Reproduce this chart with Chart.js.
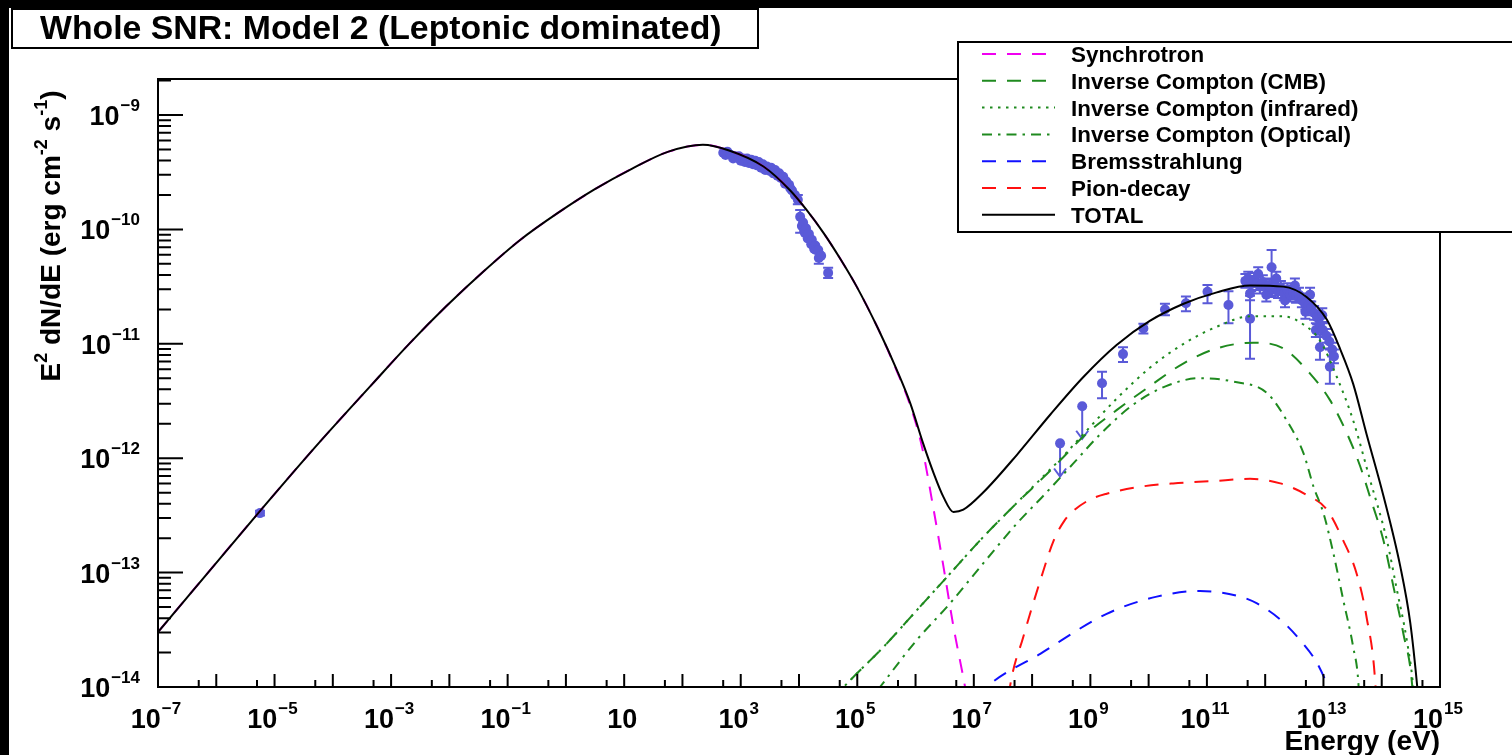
<!DOCTYPE html>
<html>
<head>
<meta charset="utf-8">
<script src="https://cdn.jsdelivr.net/npm/chart.js@4.4.1/dist/chart.umd.min.js"></script>
<style>
  html, body { margin: 0; padding: 0; background: #fff; }
  #wrap { width: 1512px; height: 755px; }
</style>
</head>
<body>
<div id="wrap"><canvas id="sed" width="1512" height="755"></canvas></div>
<script>
// All values are log10(E / eV) and log10(E^2 dN/dE / erg cm^-2 s^-1).

// --- model curves ---
const totalLogE = [-7, -5.28, -4.28, -3.32, -2.69, -2.05, -1.42, -0.78, -0.15, 0.49, 1.13, 1.76, 2.35, 2.80, 3.39, 3.85, 4.13, 4.42, 4.70, 4.99, 5.35, 5.68, 5.91, 6.13, 6.31, 6.48, 6.65, 6.82, 7.16, 7.74, 8.31, 8.88, 9.45, 10.02, 10.60, 11.17, 11.74, 12.31, 12.71, 13.06, 13.29, 13.51, 13.74, 14.03, 14.32, 14.49, 14.61, 14.66];
const totalLogF = [-13.52, -12.48, -11.89, -11.35, -11.00, -10.67, -10.37, -10.09, -9.86, -9.65, -9.47, -9.32, -9.26, -9.31, -9.45, -9.66, -9.83, -10.03, -10.25, -10.50, -10.86, -11.23, -11.52, -11.87, -12.13, -12.34, -12.47, -12.45, -12.30, -11.97, -11.62, -11.29, -11.01, -10.80, -10.65, -10.55, -10.49, -10.50, -10.59, -10.79, -11.05, -11.35, -11.79, -12.33, -12.95, -13.44, -14.0, -14.3];

const synchLogE = [-7, -5.28, -4.28, -3.32, -2.69, -2.05, -1.42, -0.78, -0.15, 0.49, 1.13, 1.76, 2.35, 2.80, 3.39, 3.85, 4.13, 4.42, 4.70, 4.99, 5.35, 5.68, 5.91, 6.11, 6.30, 6.48, 6.65, 6.85, 6.95];
const synchLogF = [-13.52, -12.48, -11.89, -11.35, -11.00, -10.67, -10.37, -10.09, -9.86, -9.65, -9.47, -9.32, -9.26, -9.31, -9.45, -9.66, -9.83, -10.03, -10.25, -10.50, -10.86, -11.24, -11.54, -11.90, -12.42, -12.95, -13.47, -14.0, -14.3];

const icCmbLogE = [4.60, 4.88, 5.45, 6.02, 6.59, 7.16, 7.74, 8.19, 8.50, 8.88, 9.45, 10.02, 10.60, 11.17, 11.80, 12.31, 12.77, 13.11, 13.40, 13.63, 13.80, 14.03, 14.20, 14.37, 14.52, 14.56];
const icCmbLogF = [-14.09, -13.94, -13.65, -13.33, -13.01, -12.69, -12.39, -12.17, -12.01, -11.81, -11.58, -11.37, -11.17, -11.04, -10.99, -11.04, -11.26, -11.49, -11.78, -12.07, -12.34, -12.72, -13.12, -13.53, -13.97, -14.3];

const icIrLogE = [4.60, 4.88, 5.45, 6.02, 6.59, 7.16, 7.74, 8.19, 8.50, 8.88, 9.45, 10.02, 10.60, 11.17, 11.74, 12.31, 12.71, 12.94, 13.23, 13.51, 13.80, 14.09, 14.26, 14.43, 14.54, 14.58];
const icIrLogF = [-14.09, -13.94, -13.65, -13.33, -13.01, -12.69, -12.39, -12.16, -12.00, -11.79, -11.48, -11.21, -11.00, -10.85, -10.76, -10.76, -10.85, -10.97, -11.29, -11.67, -12.19, -12.72, -13.15, -13.59, -14.0, -14.3];

const icOptLogE = [5.10, 5.39, 6.02, 6.59, 7.16, 7.74, 8.19, 8.70, 9.17, 9.74, 10.30, 10.88, 11.45, 12.03, 12.37, 12.66, 12.83, 13.00, 13.17, 13.34, 13.51, 13.60, 13.63];
const icOptLogF = [-14.19, -14.0, -13.59, -13.27, -12.92, -12.57, -12.33, -12.05, -11.79, -11.53, -11.37, -11.30, -11.33, -11.43, -11.67, -11.96, -12.25, -12.48, -12.83, -13.24, -13.65, -13.97, -14.3];

const bremsLogE = [7.05, 7.22, 8.14, 9.28, 10.14, 10.88, 11.57, 11.86, 12.26, 12.60, 12.89, 13.08, 13.15];
const bremsLogF = [-14.1, -14.0, -13.71, -13.36, -13.21, -13.16, -13.21, -13.27, -13.41, -13.59, -13.79, -14.0, -14.1];

const pionLogE = [7.55, 7.62, 7.85, 8.14, 8.37, 8.55, 8.71, 9.00, 9.28, 9.85, 10.42, 11.10, 11.74, 12.26, 12.71, 13.06, 13.34, 13.57, 13.74, 13.89, 13.92];
const pionLogF = [-14.3, -14.0, -13.56, -13.07, -12.72, -12.55, -12.46, -12.36, -12.31, -12.25, -12.22, -12.20, -12.18, -12.22, -12.32, -12.45, -12.72, -13.01, -13.39, -13.97, -14.3];

// --- measurements: [logE, logF, errDown, errUp] (errors in dex, 0 = none) ---
const radioPts = [[-5.25, -12.48, 0.02, 0.02]];
const xrayPts = [
  [2.70, -9.33, 0, 0], [2.74, -9.35, 0, 0], [2.77, -9.32, 0, 0], [2.83, -9.35, 0, 0], [2.87, -9.38, 0, 0],
  [2.90, -9.36, 0, 0], [2.97, -9.36, 0, 0], [3.00, -9.40, 0, 0], [3.04, -9.38, 0, 0], [3.07, -9.41, 0, 0],
  [3.11, -9.38, 0, 0], [3.14, -9.42, 0, 0], [3.18, -9.39, 0, 0], [3.21, -9.43, 0, 0], [3.25, -9.40, 0, 0],
  [3.28, -9.44, 0, 0], [3.31, -9.41, 0, 0], [3.35, -9.46, 0, 0], [3.38, -9.43, 0, 0], [3.42, -9.48, 0, 0],
  [3.45, -9.45, 0, 0], [3.50, -9.49, 0, 0], [3.52, -9.46, 0, 0], [3.56, -9.51, 0, 0], [3.59, -9.48, 0, 0],
  [3.63, -9.53, 0, 0], [3.66, -9.51, 0, 0], [3.69, -9.55, 0, 0], [3.73, -9.54, 0, 0], [3.76, -9.60, 0, 0],
  [3.78, -9.58, 0, 0], [3.83, -9.61, 0, 0], [3.85, -9.64, 0, 0], [3.88, -9.66, 0, 0], [3.93, -9.70, 0, 0],
  [3.98, -9.74, 0.04, 0.04], [4.02, -9.89, 0.14, 0.06], [4.05, -9.97, 0, 0], [4.07, -9.94, 0, 0], [4.10, -10.03, 0, 0],
  [4.12, -9.99, 0, 0], [4.15, -10.08, 0, 0], [4.17, -10.04, 0, 0], [4.21, -10.13, 0, 0], [4.22, -10.09, 0, 0],
  [4.26, -10.17, 0, 0], [4.28, -10.14, 0, 0], [4.29, -10.18, 0, 0], [4.33, -10.18, 0, 0], [4.34, -10.25, 0.05, 0.05],
  [4.38, -10.23, 0, 0], [4.50, -10.38, 0.045, 0.045]
];
const fermiPts = [
  [9.20, -11.345, 0.13, 0.10], [9.56, -11.09, 0.07, 0.06], [9.91, -10.865, 0.045, 0.04],
  [10.28, -10.70, 0.05, 0.05], [10.64, -10.646, 0.07, 0.06], [11.01, -10.545, 0.10, 0.06],
  [11.37, -10.66, 0.16, 0.12], [11.74, -10.78, 0.35, 0.20], [12.11, -10.33, 0.26, 0.15]
];
const hessPts = [
  [11.66, -10.45, 0.06, 0.06], [11.71, -10.43, 0.06, 0.06], [11.74, -10.56, 0.06, 0.06], [11.76, -10.48, 0.06, 0.06],
  [11.81, -10.44, 0.06, 0.06], [11.86, -10.47, 0.06, 0.06], [11.88, -10.39, 0.06, 0.06], [11.91, -10.50, 0.06, 0.06],
  [11.96, -10.46, 0.06, 0.06], [12.02, -10.50, 0.06, 0.06], [12.02, -10.57, 0.06, 0.06], [12.07, -10.49, 0.06, 0.06],
  [12.12, -10.52, 0.06, 0.06], [12.17, -10.50, 0.06, 0.06], [12.19, -10.43, 0.06, 0.06], [12.22, -10.54, 0.06, 0.06],
  [12.27, -10.51, 0.06, 0.06], [12.32, -10.56, 0.06, 0.06], [12.34, -10.62, 0.06, 0.06], [12.38, -10.53, 0.06, 0.06],
  [12.43, -10.57, 0.06, 0.06], [12.48, -10.55, 0.06, 0.06], [12.51, -10.49, 0.06, 0.06], [12.53, -10.58, 0.06, 0.06],
  [12.58, -10.57, 0.06, 0.06], [12.63, -10.62, 0.06, 0.06], [12.69, -10.64, 0.06, 0.06], [12.69, -10.72, 0.06, 0.06],
  [12.74, -10.66, 0.06, 0.06], [12.77, -10.57, 0.06, 0.06], [12.79, -10.69, 0.06, 0.06], [12.84, -10.73, 0.06, 0.06],
  [12.87, -10.88, 0.06, 0.06], [12.89, -10.77, 0.06, 0.06], [12.94, -10.83, 0.06, 0.06], [12.94, -11.03, 0.11, 0.11],
  [12.98, -10.75, 0.06, 0.06], [12.99, -10.88, 0.06, 0.06], [13.05, -10.93, 0.06, 0.06], [13.10, -10.98, 0.06, 0.06],
  [13.11, -11.20, 0.15, 0.15], [13.15, -11.05, 0.06, 0.06], [13.18, -11.11, 0.06, 0.06]
];
// upper limits: [logE, logF, arrow tip logF]
const upperLimits = [[8.48, -11.87, -12.16], [8.86, -11.545, -11.83]];

// --- axes ---
const xMinExp = -7, xMaxExp = 15;
const yMinExp = -14, yMaxLog = -8.685;
const xLabelExps = [-7, -5, -3, -1, 1, 3, 5, 7, 9, 11, 13, 15];
const yLabelExps = [-14, -13, -12, -11, -10, -9];

const titleText = "Whole SNR: Model 2 (Leptonic dominated)";
const xTitle = "Energy (eV)";
const seriesNames = ["Synchrotron", "Inverse Compton (CMB)", "Inverse Compton (infrared)", "Inverse Compton (Optical)", "Bremsstrahlung", "Pion-decay", "TOTAL"];

const FONT = '"Liberation Sans", Arial, Helvetica, sans-serif';
const GREEN = "#1f8a1f";
const DATA_BLUE = "#5a5ad8";
const DASH = [14, 11], DOT = [2.5, 5.5], DASHDOT = [10, 6, 2.5, 6];

const styles = [
  { color: "#f000f0", dash: DASH },
  { color: GREEN, dash: DASH },
  { color: GREEN, dash: DOT },
  { color: GREEN, dash: DASHDOT },
  { color: "#1010ff", dash: DASH },
  { color: "#ff1010", dash: DASH },
  { color: "#000000", dash: [] }
];

function pts(es, fs) {
  return es.map((e, i) => ({ x: Math.pow(10, e), y: Math.pow(10, fs[i]) }));
}

function curve(idx, es, fs, order) {
  return {
    label: seriesNames[idx],
    data: pts(es, fs),
    showLine: true,
    borderColor: styles[idx].color,
    borderDash: styles[idx].dash,
    borderWidth: 2,
    pointRadius: 0,
    fill: false,
    cubicInterpolationMode: "monotone",
    order
  };
}

const allPts = [...radioPts, ...xrayPts, ...fermiPts, ...hessPts, ...upperLimits.map((u) => [u[0], u[1], 0, 0])];

function drawPow(c, e, x, y, align) {
  const base = "bold 27px " + FONT, sup = "bold 17px " + FONT;
  c.font = base;
  const wb = c.measureText("10").width;
  let s = "", ws = 0;
  if (e !== 1) {
    s = (e < 0 ? "\u2212" : "") + Math.abs(e);
    c.font = sup;
    ws = c.measureText(s).width + 1;
  }
  const w = wb + ws;
  const x0 = align === "right" ? x - w : x - w / 2;
  c.textAlign = "left";
  c.textBaseline = "alphabetic";
  c.font = base;
  c.fillText("10", x0, y);
  if (s) {
    c.font = sup;
    c.fillText(s, x0 + wb + 1, y - 14);
  }
}

function drawRuns(c, runs, cx, y) {
  const big = "bold 28px " + FONT, small = "bold 18px " + FONT;
  let w = 0;
  runs.forEach((r) => { c.font = r.sup ? small : big; w += c.measureText(r.t).width; });
  let x = cx - w / 2;
  c.textAlign = "left";
  runs.forEach((r) => {
    c.font = r.sup ? small : big;
    c.fillText(r.t, x, r.sup ? y - 13 : y);
    x += c.measureText(r.t).width;
  });
}

const rootStyle = {
  id: "rootStyle",
  beforeDraw(chart) {
    const c = chart.ctx;
    c.save();
    c.fillStyle = "#fff";
    c.fillRect(0, 0, chart.width, chart.height);
    c.fillStyle = "#000";
    c.fillRect(0, 0, chart.width, 8);
    c.fillRect(0, 0, 9, chart.height);
    c.restore();
  },
  beforeDatasetsDraw(chart) {
    const c = chart.ctx, xs = chart.scales.x, ys = chart.scales.y, a = chart.chartArea;
    c.save();
    c.beginPath();
    c.rect(a.left, a.top, a.right - a.left, a.bottom - a.top);
    c.clip();
    c.strokeStyle = DATA_BLUE;
    c.lineWidth = 2;
    allPts.forEach((p) => {
      if (!p[2] && !p[3]) return;
      const px = xs.getPixelForValue(Math.pow(10, p[0]));
      const y1 = ys.getPixelForValue(Math.pow(10, p[1] - p[2]));
      const y2 = ys.getPixelForValue(Math.pow(10, p[1] + p[3]));
      c.beginPath();
      c.moveTo(px, y1); c.lineTo(px, y2);
      c.moveTo(px - 5, y1); c.lineTo(px + 5, y1);
      c.moveTo(px - 5, y2); c.lineTo(px + 5, y2);
      c.stroke();
    });
    upperLimits.forEach((u) => {
      const px = xs.getPixelForValue(Math.pow(10, u[0]));
      const y1 = ys.getPixelForValue(Math.pow(10, u[1]));
      const y2 = ys.getPixelForValue(Math.pow(10, u[2]));
      c.beginPath();
      c.moveTo(px, y1); c.lineTo(px, y2);
      c.moveTo(px - 6, y2 - 8); c.lineTo(px, y2); c.lineTo(px + 6, y2 - 8);
      c.stroke();
    });
    c.restore();
  },
  afterDraw(chart) {
    const c = chart.ctx, xs = chart.scales.x, ys = chart.scales.y, a = chart.chartArea;
    c.save();
    c.strokeStyle = "#000";
    c.fillStyle = "#000";
    c.lineWidth = 2;
    c.setLineDash([]);
    c.strokeRect(a.left, a.top, a.right - a.left, a.bottom - a.top);

    // x ticks: decades and 5x10^n
    c.beginPath();
    for (let e = xMinExp; e <= xMaxExp; e++) {
      const px = xs.getPixelForValue(Math.pow(10, e));
      c.moveTo(px, a.bottom); c.lineTo(px, a.bottom - 13);
      if (e < xMaxExp) {
        const pm = xs.getPixelForValue(5 * Math.pow(10, e));
        c.moveTo(pm, a.bottom); c.lineTo(pm, a.bottom - 7);
      }
    }
    // y ticks: decades and 2..9 x 10^n
    for (let e = yMinExp; e <= -9; e++) {
      for (let m = 1; m <= 9; m++) {
        const v = m * Math.pow(10, e);
        if (Math.log10(v) > yMaxLog) continue;
        const py = ys.getPixelForValue(v);
        c.moveTo(a.left, py); c.lineTo(a.left + (m === 1 ? 25 : 13), py);
      }
    }
    c.stroke();

    xLabelExps.forEach((e) => drawPow(c, e, xs.getPixelForValue(Math.pow(10, e)) - 2, 728, "center"));
    yLabelExps.forEach((e) => drawPow(c, e, 140, ys.getPixelForValue(Math.pow(10, e)) + 10, "right"));

    c.font = "bold 28px " + FONT;
    c.textAlign = "right";
    c.fillText(xTitle, a.right, 750);

    c.save();
    c.translate(50, 236);
    c.rotate(-Math.PI / 2);
    drawRuns(c, [
      { t: "E" }, { t: "2", sup: true }, { t: " dN/dE (erg cm" }, { t: "-2", sup: true },
      { t: " s" }, { t: "-1", sup: true }, { t: ")" }
    ], 0, 10);
    c.restore();

    // title box
    c.fillStyle = "#fff";
    c.fillRect(12, 9, 746, 39);
    c.strokeRect(12, 9, 746, 39);
    c.fillStyle = "#000";
    c.font = "bold 30px " + FONT;
    const tw = c.measureText(titleText).width;
    const ts = (30 * 682) / tw;
    c.font = "bold " + ts.toFixed(1) + "px " + FONT;
    c.textAlign = "left";
    c.fillText(titleText, 40, 39);

    // legend box
    c.fillStyle = "#fff";
    c.fillRect(958, 42, 600, 190);
    c.strokeRect(958, 42, 600, 190);
    c.font = "bold 22.4px " + FONT;
    seriesNames.forEach((name, i) => {
      const y = 54 + i * 26.8;
      c.strokeStyle = styles[i].color;
      c.setLineDash(styles[i].dash);
      c.beginPath();
      c.moveTo(982, y); c.lineTo(1055, y);
      c.stroke();
      c.setLineDash([]);
      c.fillStyle = "#000";
      c.fillText(name, 1071, y + 8);
    });
    c.restore();
  }
};

const datasets = [
  curve(6, totalLogE, totalLogF, 0),
  curve(0, synchLogE, synchLogF, 1),
  curve(1, icCmbLogE, icCmbLogF, 2),
  curve(2, icIrLogE, icIrLogF, 3),
  curve(3, icOptLogE, icOptLogF, 4),
  curve(4, bremsLogE, bremsLogF, 5),
  curve(5, pionLogE, pionLogF, 6),
  {
    label: "data",
    data: allPts.map((p) => ({ x: Math.pow(10, p[0]), y: Math.pow(10, p[1]) })),
    showLine: false,
    pointRadius: 5,
    pointBorderWidth: 0,
    pointBackgroundColor: DATA_BLUE,
    order: 10
  }
];

new Chart(document.getElementById("sed"), {
  type: "scatter",
  data: { datasets },
  options: {
    responsive: false,
    animation: false,
    layout: { padding: { left: 158, right: 72, top: 79, bottom: 68 } },
    plugins: { legend: { display: false }, tooltip: { enabled: false } },
    scales: {
      x: { type: "logarithmic", min: Math.pow(10, xMinExp), max: Math.pow(10, xMaxExp), display: false },
      y: { type: "logarithmic", min: Math.pow(10, yMinExp), max: Math.pow(10, yMaxLog), display: false }
    }
  },
  plugins: [rootStyle]
});
</script>
</body>
</html>
